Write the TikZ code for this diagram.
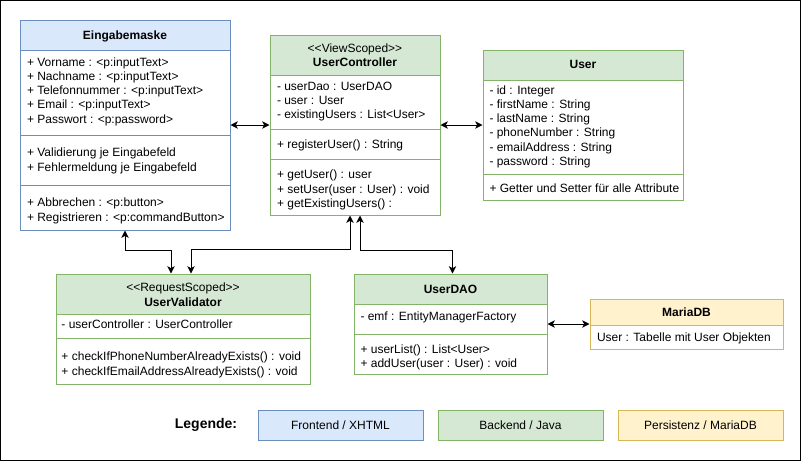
\documentclass[tikz,border=0pt]{standalone}
\usepackage{fontspec}
\setmainfont{Liberation Sans}
\usetikzlibrary{arrows.meta}

\definecolor{feFill}{HTML}{DAE8FC}
\definecolor{feLine}{HTML}{6C8EBF}
\definecolor{beFill}{HTML}{D5E8D4}
\definecolor{beLine}{HTML}{82B366}
\definecolor{dbFill}{HTML}{FFF2CC}
\definecolor{dbLine}{HTML}{D6B656}

\begin{document}
\begin{tikzpicture}[x=0.75pt, y=-0.75pt, line width=0.75pt,
            font=\fontsize{9}{10.8}\selectfont,
            cls/.style={draw, fill=white, inner sep=0pt},
            row/.style={anchor=base west, inner sep=0pt},
            title/.style={anchor=base, inner sep=0pt, font=\fontsize{9}{10.8}\selectfont\bfseries},
            stereo/.style={anchor=base, inner sep=0pt},
            link/.style={{Stealth[length=5.5pt,width=5.5pt,inset=1.5pt]}-{Stealth[length=5.5pt,width=5.5pt,inset=1.5pt]}}]
            \useasboundingbox (0,0) rectangle (801,461);
            \draw[line width=1pt] (0.7,0.7) rectangle (800.3,460.3);

            \node [cls, draw=feLine, minimum width=157.5pt, minimum height=157.5pt] (eingabe) at (125,125) {};
            \node [cls, draw=feLine, fill=feFill, minimum width=157.5pt, minimum height=22.5pt] (eingabeHead) at (125,35) {};
            \node [title] (eingabeTitle) at (125,39.3) {Eingabemaske};
            \draw[feLine] (20,135) -- (230,135) (20,185) -- (230,185);
            \node [row] (eRow1) at (26.5,66) {+ Vorname : <p:inputText>};
            \node [row] (eRow2) at (26.5,80.3) {+ Nachname : <p:inputText>};
            \node [row] (eRow3) at (26.5,94.6) {+ Telefonnummer : <p:inputText>};
            \node [row] (eRow4) at (26.5,108.8) {+ Email : <p:inputText>};
            \node [row] (eRow5) at (26.5,123) {+ Passwort : <p:password>};
            \node [row] (eRow6) at (26.5,156.6) {+ Validierung je Eingabefeld};
            \node [row] (eRow7) at (26.5,171) {+ Fehlermeldung je Eingabefeld};
            \node [row] (eRow8) at (26.5,206.6) {+ Abbrechen : <p:button>};
            \node [row] (eRow9) at (26.5,221.3) {+ Registrieren : <p:commandButton>};

            \node [cls, draw=beLine, minimum width=127.5pt, minimum height=135pt] (ctrl) at (355,125) {};
            \node [cls, draw=beLine, fill=beFill, minimum width=127.5pt, minimum height=30pt] (ctrlHead) at (355,55) {};
            \node [stereo] (ctrlStereo) at (355,52.6) {<\kern0pt<ViewScoped>\kern0pt>};
            \node [title] (ctrlTitle) at (355,66.6) {UserController};
            \draw[beLine] (270,129) -- (440,129) (270,159) -- (440,159);
            \node [row] (cRow1) at (276.5,90) {- userDao : UserDAO};
            \node [row] (cRow2) at (276.5,104) {- user : User};
            \node [row] (cRow3) at (276.5,118.6) {- existingUsers : List<User>};
            \node [row] (cRow4) at (276.5,148.3) {+ registerUser() : String};
            \node [row] (cRow5) at (276.5,178.6) {+ getUser() : user};
            \node [row] (cRow6) at (276.5,193) {+ setUser(user : User) : void};
            \node [row] (cRow7) at (276.5,207.3) {+ getExistingUsers() :};

            \node [cls, draw=beLine, minimum width=150pt, minimum height=112.5pt] (user) at (583,125) {};
            \node [cls, draw=beLine, fill=beFill, minimum width=150pt, minimum height=22.5pt] (userHead) at (583,65) {};
            \node [title] (userTitle) at (583,68.6) {User};
            \draw[beLine] (483,174) -- (683,174);
            \node [row] (uRow1) at (489,94.3) {- id : Integer};
            \node [row] (uRow2) at (489,108.5) {- firstName : String};
            \node [row] (uRow3) at (489,122.7) {- lastName : String};
            \node [row] (uRow4) at (489,136.9) {- phoneNumber : String};
            \node [row] (uRow5) at (489,151.1) {- emailAddress : String};
            \node [row] (uRow6) at (489,165.3) {- password : String};
            \node [row] (uRow7) at (489,192.6) {+ Getter und Setter für alle Attribute};

            \node [cls, draw=beLine, minimum width=190.5pt, minimum height=82.5pt] (validator) at (183,329) {};
            \node [cls, draw=beLine, fill=beFill, minimum width=190.5pt, minimum height=30pt] (validatorHead) at (183,294) {};
            \node [stereo] (validatorStereo) at (183,291.6) {<\kern0pt<RequestScoped>\kern0pt>};
            \node [title] (validatorTitle) at (183,306) {UserValidator};
            \draw[beLine] (56,338) -- (310,338);
            \node [row] (vRow1) at (61,328.3) {- userController : UserController};
            \node [row] (vRow2) at (61,360) {+ checkIfPhoneNumberAlreadyExists() : void};
            \node [row] (vRow3) at (61,375) {+ checkIfEmailAddressAlreadyExists() : void};

            \node [cls, draw=beLine, minimum width=144.75pt, minimum height=75pt] (dao) at (450.5,324) {};
            \node [cls, draw=beLine, fill=beFill, minimum width=144.75pt, minimum height=22.5pt] (daoHead) at (450.5,289) {};
            \node [title] (daoTitle) at (450.5,293.3) {UserDAO};
            \draw[beLine] (354,334) -- (547,334);
            \node [row] (dRow1) at (360,320.7) {- emf : EntityManagerFactory};
            \node [row] (dRow2) at (360,353.3) {+ userList() : List<User>};
            \node [row] (dRow3) at (360,367.6) {+ addUser(user : User) : void};

            \node [cls, draw=dbLine, minimum width=144.75pt, minimum height=37.5pt] (maria) at (686.5,324) {};
            \node [cls, draw=dbLine, fill=dbFill, minimum width=144.75pt, minimum height=19.5pt] (mariaHead) at (686.5,312) {};
            \node [title] (mariaTitle) at (686.5,316.6) {MariaDB};
            \node [row] (mRow1) at (596.5,341) {User : Tabelle mit User Objekten};

            \draw[link] (eingabe.east) -- (ctrl.west);
            \draw[link] (ctrl.east) -- (user.west);
            \draw[link] (dao.east) -- (maria.west);
            \draw[link] (eingabe.south) -- ++(0,20) -| ([xshift=-9pt]validator.north);
            \draw[link] ([xshift=6pt]validator.north) -- ++(0,-24) -| ([xshift=-3.75pt]ctrl.south);
            \draw[link] ([xshift=3.75pt]ctrl.south) -- ++(0,35) -| ([xshift=1.5pt]dao.north);

            \node [inner sep=0pt, font=\fontsize{10.5}{12.6}\selectfont\bfseries] (legende) at (206,425) {Legende:};
            \node [cls, draw=feLine, fill=feFill, minimum width=123.75pt, minimum height=22.5pt] (legFront) at (340.5,425) {Frontend / XHTML};
            \node [cls, draw=beLine, fill=beFill, minimum width=123.75pt, minimum height=22.5pt] (legBack) at (520.5,425) {Backend / Java};
            \node [cls, draw=dbLine, fill=dbFill, minimum width=123.75pt, minimum height=22.5pt] (legDb) at (700.5,425) {Persistenz / MariaDB};
        \end{tikzpicture}
\end{document}
